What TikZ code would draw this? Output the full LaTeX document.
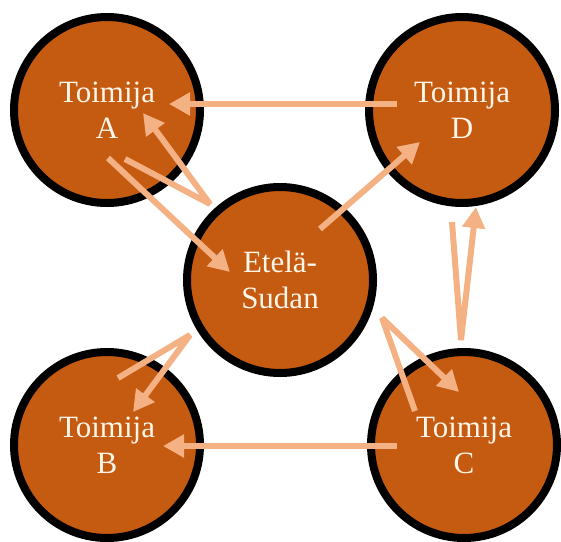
\documentclass[tikz,border=0pt]{standalone}
\usepackage{fontspec}
\setmainfont{Liberation Serif}
\usetikzlibrary{arrows.meta}
\definecolor{nodefill}{HTML}{C55A11}
\definecolor{arrowc}{HTML}{F4B183}
\definecolor{labeltext}{HTML}{FFF6EA}
\begin{document}
\begin{tikzpicture}[x=1pt,y=-1pt,
  actor/.style={circle, draw=black, line width=8pt, fill=nodefill,
    minimum size=186pt, inner sep=0pt, text=labeltext,
    font=\fontsize{31}{36}\selectfont, align=center},
  flow/.style={draw=arrowc, line width=6pt, line join=bevel,
    -{Triangle[length=21pt,width=22pt]}}]
\useasboundingbox (0,0) rectangle (561,541);

% actors
\node[actor] (A) at (107,110) {Toimija\\A};
\node[actor] (D) at (462,110) {Toimija\\D};
\node[actor] (S) at (280,280) {Etelä-\\Sudan};
\node[actor] (B) at (107,445) {Toimija\\B};
\node[actor] (C) at (464,445) {Toimija\\C};

% connector end points
\coordinate (dOut) at (397,104);  \coordinate (aIn1) at (169,104);
\coordinate (aLeg) at (125,159);  \coordinate (saApex) at (210,204);
\coordinate (aIn2) at (143,113);
\coordinate (aOut) at (108,158);  \coordinate (sIn) at (230,272);
\coordinate (sOut1) at (320,229); \coordinate (dIn1) at (420,142);
\coordinate (dLeg) at (452,222);  \coordinate (cdApex) at (461,340);
\coordinate (dIn2) at (476,207);
\coordinate (cLeg) at (415,411);  \coordinate (scApex) at (382,318);
\coordinate (cIn) at (459,392);
\coordinate (cOut) at (397,446);  \coordinate (bIn1) at (163,446);
\coordinate (bLeg) at (118,378);  \coordinate (sbApex) at (190,335);
\coordinate (bIn2) at (133,412);

% connectors
\draw[flow] (dOut) -- (aIn1);
\draw[flow] (aLeg) -- (saApex) -- (aIn2);
\draw[flow] (aOut) -- (sIn);
\draw[flow] (sOut1) -- (dIn1);
\draw[flow] (dLeg) -- (cdApex) -- (dIn2);
\draw[flow] (cLeg) -- (scApex) -- (cIn);
\draw[flow] (cOut) -- (bIn1);
\draw[flow] (bLeg) -- (sbApex) -- (bIn2);
\end{tikzpicture}
\end{document}
